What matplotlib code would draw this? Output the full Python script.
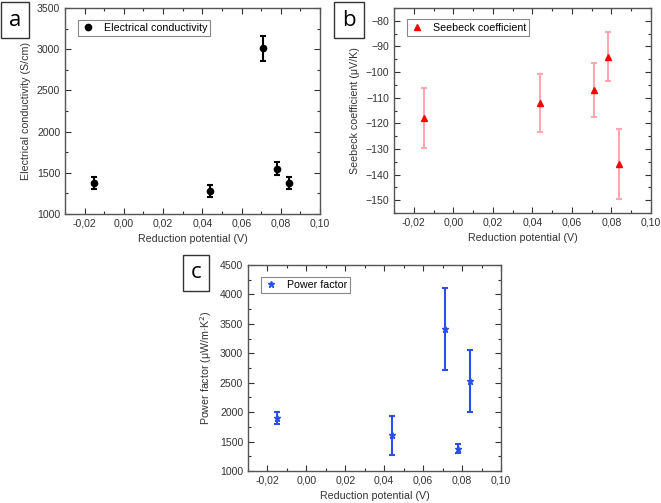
import matplotlib
matplotlib.use('Agg')
import matplotlib.pyplot as plt
from matplotlib.ticker import MultipleLocator, FuncFormatter

plt.rcParams['font.family'] = ['Liberation Sans', 'DejaVu Sans']
plt.rcParams['font.size'] = 7

# data
potential = [-0.015, 0.044, 0.071, 0.078, 0.084]

conductivity = [1380, 1280, 3010, 1550, 1380]
conductivity_err = [73, 68, 152, 80, 72]

seebeck = [-118, -112, -107, -94, -136]
seebeck_err = [11.8, 11.2, 10.7, 9.5, 13.6]

power_factor = [1906, 1610, 3415, 1375, 2530]
power_factor_err = [100, 330, 702, 77, 530]

W, H = 661, 503
fig = plt.figure(figsize=(W / 100, H / 100), dpi=100)


def px_axes(x0, y0, x1, y1):
    return fig.add_axes([x0 / W, 1 - y1 / H, (x1 - x0) / W, (y1 - y0) / H])


xfmt = FuncFormatter(lambda v, p: ('%.2f' % v).replace('.', ','))
frame_col = '#555555'


def style(ax, ymin, ymax, ymajor, yminor):
    ax.set_xlim(-0.03, 0.10)
    ax.set_ylim(ymin, ymax)
    ax.xaxis.set_major_locator(MultipleLocator(0.02))
    ax.xaxis.set_minor_locator(MultipleLocator(0.01))
    ax.yaxis.set_major_locator(MultipleLocator(ymajor))
    ax.yaxis.set_minor_locator(MultipleLocator(yminor))
    ax.xaxis.set_major_formatter(xfmt)
    ax.tick_params(which='both', direction='in', top=True, right=True,
                   color='#333333', labelsize=7.6, labelcolor='#333333')
    ax.tick_params(which='major', length=4, width=0.8)
    ax.tick_params(which='minor', length=2, width=0.8)
    for s in ax.spines.values():
        s.set_color(frame_col)
        s.set_linewidth(1.0)
    ax.set_xlabel('Reduction potential (V)', fontsize=7.7, color='#333333')


def add_legend(ax):
    leg = ax.legend(loc='upper left', fancybox=False, edgecolor='#888888',
                    fontsize=7.7, handlelength=1.2, handletextpad=0.9,
                    borderpad=0.3, framealpha=1, bbox_to_anchor=(0.03, 0.97))
    leg.get_frame().set_linewidth(0.8)


def panel_label(x, y, s):
    fig.text(x / W, 1 - y / H, s, fontsize=16, family='Open Sans',
             ha='center', va='center',
             bbox=dict(boxstyle='square,pad=0.35', fc='white', ec='#333333', lw=1.0))


# (a) electrical conductivity
ax1 = px_axes(65, 8, 320, 214)
ax1.errorbar(potential, conductivity, yerr=conductivity_err, fmt='none', ecolor='black',
             elinewidth=1.5, capsize=2.5, capthick=1.5)
ax1.plot(potential, conductivity, 'o', color='black', ms=4.5,
         label='Electrical conductivity')
style(ax1, 1000, 3500, 500, 250)
ax1.set_ylabel('Electrical conductivity (S/cm)', fontsize=7.7, color='#333333')
add_legend(ax1)

# (b) Seebeck coefficient
ax2 = px_axes(394, 8, 651, 213)
ax2.errorbar(potential, seebeck, yerr=seebeck_err, fmt='none', ecolor='#ffa8b4',
             elinewidth=1.5, capsize=2.5, capthick=1.5)
ax2.plot(potential, seebeck, '^', color='red', ms=5, label='Seebeck coefficient')
style(ax2, -155, -75, 10, 5)
ax2.set_ylabel('Seebeck coefficient (\u03bcV/K)', fontsize=7.7, color='#333333')
add_legend(ax2)

# (c) power factor
ax3 = px_axes(248, 265, 501, 471)
ax3.errorbar(potential, power_factor, yerr=power_factor_err, fmt='none', ecolor='#2a4ff0',
             elinewidth=1.5, capsize=2.5, capthick=1.5)
ax3.plot(potential, power_factor, '*', color='#2a4ff0', ms=5, label='Power factor')
style(ax3, 1000, 4500, 500, 250)
ax3.set_ylabel('Power factor (\u03bcW/m\u00b7K$^2$)', fontsize=7.7, color='#333333')
add_legend(ax3)

panel_label(15, 20, 'a')
panel_label(349, 20, 'b')
panel_label(196, 273, 'c')

fig.savefig('out.png', dpi=100)
